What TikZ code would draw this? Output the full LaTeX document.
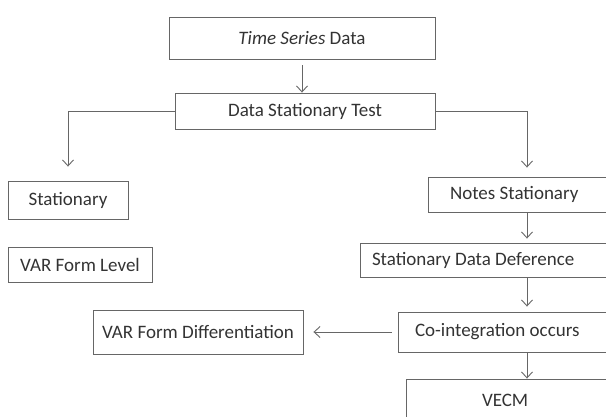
\documentclass[tikz,border=0pt]{standalone}
\usepackage{fontspec}
\setmainfont{Carlito}
\usetikzlibrary{arrows.meta}

\tikzset{
  box/.style={draw=black!60, line width=0.9pt, inner sep=0pt, text=black!80,
              font=\fontsize{19}{22}\selectfont},
  cutbox/.style={box, align=flush left},
  link/.style={draw=black!60, line width=0.9pt, ->}
}

\begin{document}
\begin{tikzpicture}[x=1pt, y=-1pt, >={Straight Barb[length=6pt,width=11pt]}]
            \useasboundingbox (0,0) rectangle (606,417);
            \clip (0,0) rectangle (606,417);

            % Nodes
            \node[box, minimum width=266, minimum height=42] (ts) at (302, 38) {\textit{Time Series} Data};
            \node[box, minimum width=260, minimum height=36] (dst) at (305, 111) {Data Stationary Test};
            \node[box, minimum width=120, minimum height=38] (stat) at (68, 200) {Stationary};
            \node[box, minimum width=144, minimum height=35] (varl) at (80, 264.5) {VAR Form Level};
            \node[box, minimum width=210, minimum height=44] (vard) at (198, 332) {VAR Form Differentiation};

            % right column runs past the edge
            \node[cutbox, inner xsep=22pt, text width=154pt, minimum height=35] (ns) at (527, 194.5) {Notes Stationary};
            \node[cutbox, inner xsep=12pt, text width=310pt, minimum height=34] (sdd) at (527, 260) {Stationary Data Deference};
            \node[cutbox, inner xsep=17pt, text width=224pt, minimum height=40] (coi) at (527, 332) {Co-integration occurs};
            \node[cutbox, inner xsep=76pt, text width=90pt, minimum height=42] (vecm) at (527, 400) {VECM};

            % Arrows
            \draw[link, shorten <=6pt] (ts.south) -- (ts.south |- dst.north);
            \draw[link, shorten >=14pt] (dst.west) -| (stat.north);
            \draw[link, shorten >=9pt] (dst.east) -| (ns.north);

            \draw[link, shorten >=4pt] (ns) -- (sdd);
            \draw[link, shorten >=5pt] (sdd) -- (coi);
            \draw[link] (coi) -- (vecm);

            \draw[link, shorten <=6pt, shorten >=10pt] (coi.west) -- (coi.west -| vard.east);
            \end{tikzpicture}
\end{document}
